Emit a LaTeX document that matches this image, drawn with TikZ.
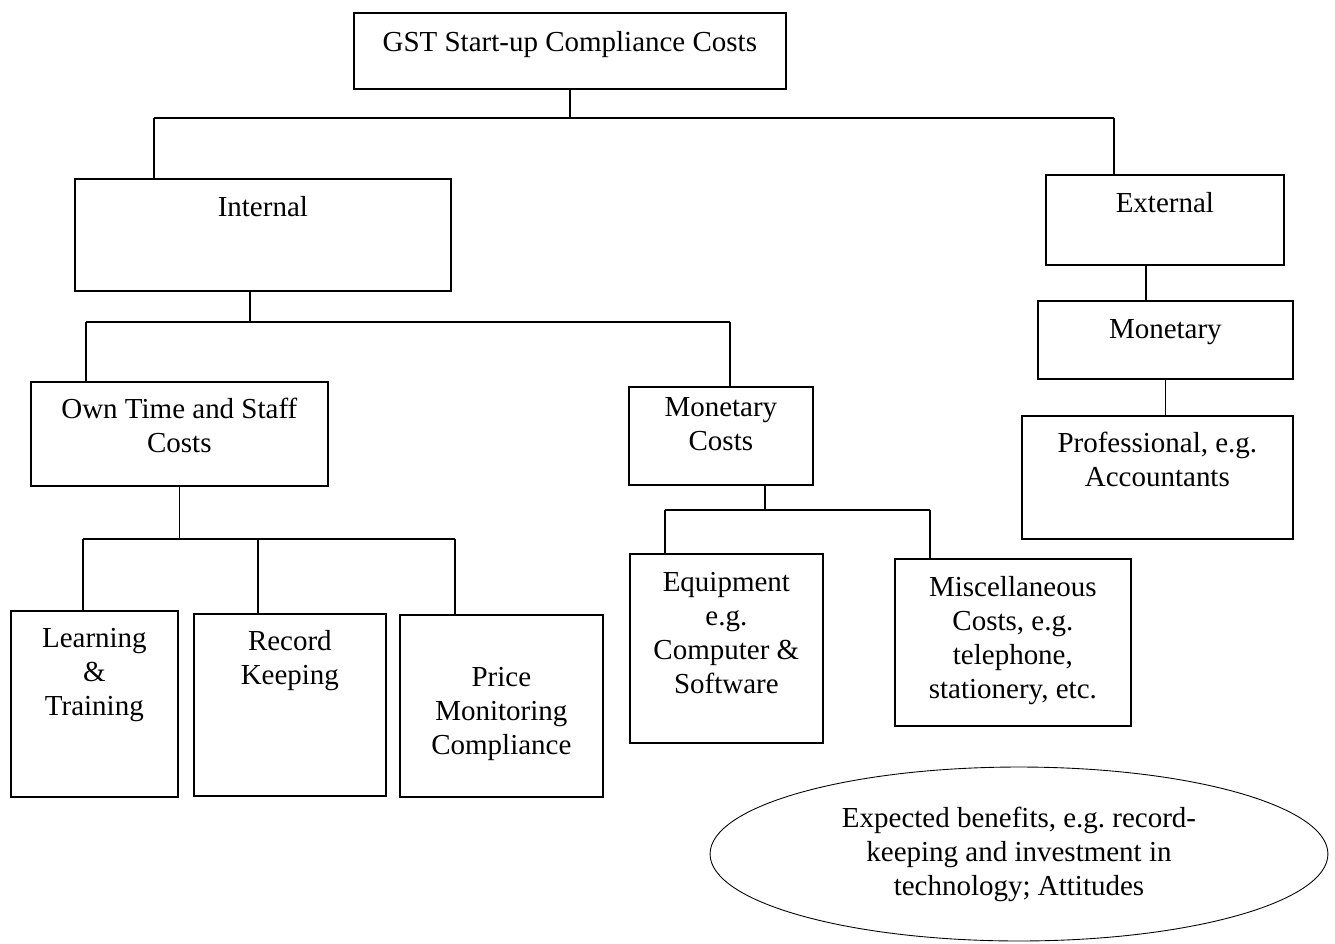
\documentclass[tikz,border=0pt]{standalone}
\usepackage{fontspec}
\setmainfont{Liberation Serif}
\usetikzlibrary{shapes.geometric}
\frenchspacing

\begin{document}
\begin{tikzpicture}[x=0.02cm, y=-0.02cm,
    font=\fontsize{16.5}{19.35}\selectfont,
    box/.style={draw, line width=1pt, rectangle, inner sep=0pt, align=flush center, anchor=north west},
    link/.style={line width=0.9pt}]
  \useasboundingbox (0,0) rectangle (1335,943);

  % top level
  \node[box, text width=8.64cm, text height=0.78cm, text depth=0.74cm] (gst) at (353,12) {GST Start-up Compliance Costs};

  % internal / external
  \node[box, text width=7.52cm, text height=0.76cm, text depth=1.48cm] (int) at (74,178) {Internal};
  \node[box, text width=4.76cm, text height=0.76cm, text depth=1.04cm] (ext) at (1045,174) {External};

  % external branch
  \node[box, text width=5.10cm, text height=0.76cm, text depth=0.80cm] (extmon) at (1037,300) {Monetary};
  \node[box, text width=5.42cm, text height=0.74cm, text depth=1.72cm] (prof) at (1021,415) {Professional, e.g.\\Accountants};

  % internal branch
  \node[box, text width=5.94cm, text height=0.74cm, text depth=1.34cm] (own) at (30,381) {Own Time and Staff\\Costs};
  \node[box, text width=3.68cm, text height=0.60cm, text depth=1.36cm] (intmon) at (628,386) {Monetary\\Costs};

  \node[box, text width=3.34cm, text height=0.74cm, text depth=2.98cm] (learn) at (10,610) {Learning\\\&\\Training};
  \node[box, text width=3.84cm, text height=0.74cm, text depth=2.90cm] (rec) at (193,613) {Record\\Keeping};
  \node[box, text width=4.06cm, text height=1.44cm, text depth=2.20cm] (price) at (399,614) {Price\\Monitoring\\Compliance};

  \node[box, text width=3.86cm, text height=0.76cm, text depth=3.02cm] (equip) at (629,553) {Equipment\\e.g.\\Computer \&\\Software};
  \node[box, text width=4.72cm, text height=0.76cm, text depth=2.58cm] (misc) at (894,558) {Miscellaneous\\Costs, e.g.\\telephone,\\stationery, etc.};

  % benefits
  \node[draw, ellipse, line width=0.5pt, inner sep=0pt, align=center,
        minimum width=12.36cm, minimum height=3.48cm] (benefit) at (1019,854)
        {Expected benefits, e.g. record-\\keeping and investment in\\technology; Attitudes};

  % junctions
  \coordinate (barA) at (154,118);
  \coordinate (barB) at (1114,118);
  \coordinate (barC) at (86,322);
  \coordinate (barD) at (730,322);
  \coordinate (barE) at (83,539);
  \coordinate (barF) at (258,539);
  \coordinate (barG) at (455,539);
  \coordinate (barH) at (665,510);
  \coordinate (barI) at (930,510);
  \coordinate (intdown) at (250,290);
  \coordinate (extdown) at (1146,264);
  \coordinate (mondown) at (765,484);

  % connectors
  \draw[link] (gst.south) -- (gst.south |- barA);
  \draw[link] (barA) -- (barB);
  \draw[link] (barA) -- (barA |- int.north);
  \draw[link] (barB) -- (barB |- ext.north);

  \draw[link] (extdown) -- (extdown |- extmon.north);
  \draw[link] (extmon.south) -- (extmon.south |- prof.north);

  \draw[link] (intdown) -- (intdown |- barC);
  \draw[link] (barC) -- (barD);
  \draw[link] (barC) -- (barC |- own.north);
  \draw[link] (barD) -- (barD |- intmon.north);

  \draw[link] (own.south) -- (own.south |- barE);
  \draw[link] (barE) -- (barG);
  \draw[link] (barE) -- (barE |- learn.north);
  \draw[link] (barF) -- (barF |- rec.north);
  \draw[link] (barG) -- (barG |- price.north);

  \draw[link] (mondown) -- (mondown |- barH);
  \draw[link] (barH) -- (barI);
  \draw[link] (barH) -- (barH |- equip.north);
  \draw[link] (barI) -- (barI |- misc.north);
\end{tikzpicture}
\end{document}
